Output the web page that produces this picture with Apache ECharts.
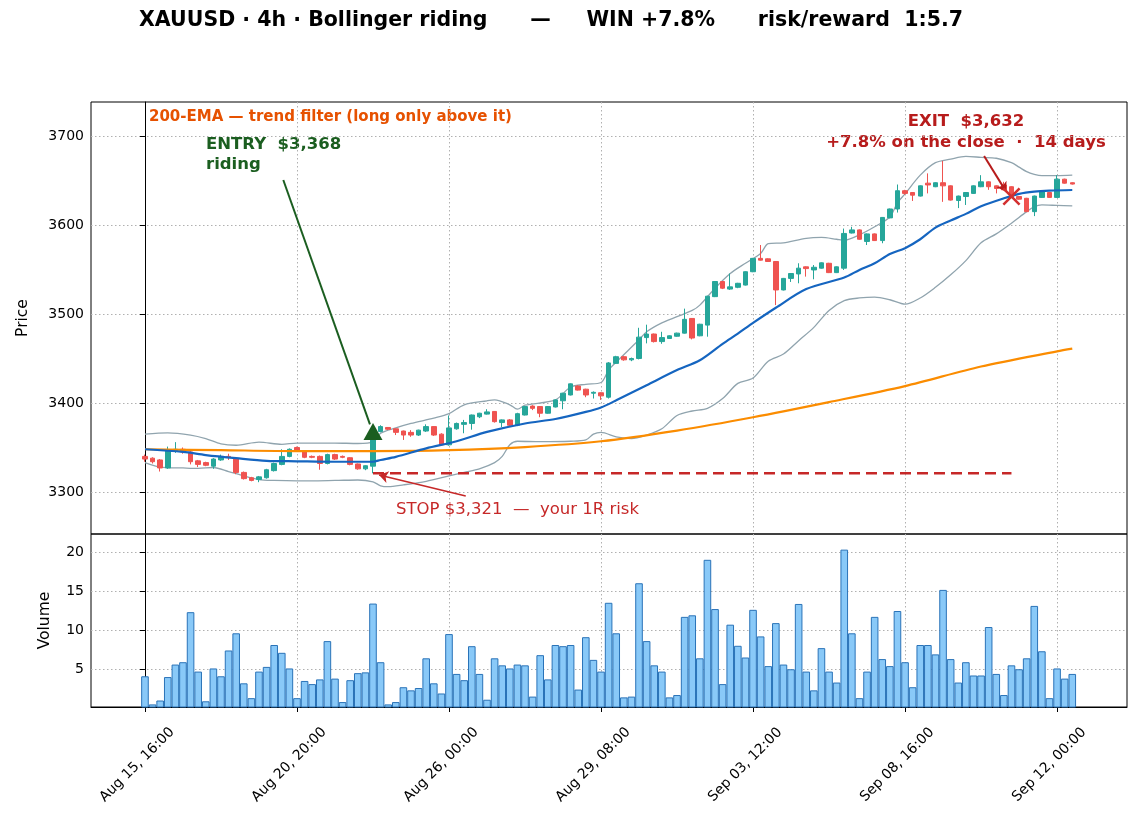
<!DOCTYPE html>
<html>
<head>
<meta charset="utf-8">
<title>XAUUSD 4h Bollinger riding</title>
<script src="https://cdn.jsdelivr.net/npm/echarts@6/dist/echarts.min.js"></script>
<style>
  html, body { margin: 0; padding: 0; background: #fff; }
  #chart { width: 1139px; height: 826px; }
</style>
</head>
<body>
<div id="chart"></div>
<script>
// x ticks (candle index) and their labels
const tickIdx = [0, 20, 40, 60, 80, 100, 120];
const tickLabels = ['Aug 15, 16:00', 'Aug 20, 20:00', 'Aug 26, 00:00', 'Aug 29, 08:00',
                    'Sep 03, 12:00', 'Sep 08, 16:00', 'Sep 12, 00:00'];
const priceTicks = [3300, 3400, 3500, 3600, 3700];
const volumeTicks = [5, 10, 15, 20];

// 4h candles
const opens = [3340,3338,3336,3327,3346,3348,3345,3335,3333,3329,3336,3340,3337,3322,3316,3314,3316,3324,3331,3340,
  3350,3345,3340,3340,3332,3342,3340,3338.5,3331.5,3326,3329,3368,3372.5,3371,3368.5,3367,3364,3368.5,3373.5,3365,
  3353,3371,3376,3377,3384.5,3387.5,3390.5,3378,3381,3375,3386.5,3396.5,3396,3388.5,3395.5,3402.5,3409,3419,3415.5,3411,
  3411.5,3406.5,3444.5,3452,3448.5,3450,3473.5,3477.5,3469,3472.5,3475,3478.5,3495,3475.5,3487.5,3519.5,3536.5,3528,3530,3532.5,
  3547.5,3562.5,3562,3559,3527,3540,3545,3553,3549.5,3551.5,3557,3546.5,3551.5,3591,3594.5,3581.5,3590,3582.5,3608,3618,
  3638.5,3636.5,3632.5,3647,3643,3647.5,3644,3627.5,3632,3635.5,3643,3648.5,3644,3645,3643,3632,3630,3615,3631,3636.5,
  3631,3651.5,3647.5];
const closes = [3337,3334,3327,3346,3348,3345,3334,3331,3330,3337,3340,3339,3322,3315,3313,3317,3325,3332,3340,3348,
  3347,3339,3339,3332,3342,3337,3339,3331,3326,3329.5,3368,3373.5,3370.5,3367,3364,3364,3369.5,3373.5,3364,3353,
  3372,3377,3378,3386.5,3388.5,3390,3379,3381,3375,3388,3396,3394,3388.5,3396,3403.5,3411,3421.5,3414.5,3409,3412,
  3408,3445,3452,3448.5,3450,3474,3477.5,3469,3473.5,3475.5,3478.5,3494,3473,3488.5,3520,3536.5,3529,3530.5,3534.5,3547.5,
  3562.5,3560.5,3559,3527,3540,3545.5,3551.5,3551,3552.5,3557.5,3546.5,3553,3590.5,3594.5,3584,3590,3582.5,3608.5,3618,3638.5,
  3635.5,3633.5,3644,3645,3647.5,3644,3628,3632.5,3636.5,3644,3648.5,3643,3641,3639.5,3632,3629,3615,3632.5,3637.5,3631,
  3651.5,3647,3646];
const lows = [3334,3332,3323,3326,3344,3343,3331,3328,3329,3326,3335,3336,3320,3314,3312,3311,3315,3323,3330,3339,
  3346,3338,3338,3325,3331,3336,3338,3330,3325,3324.5,3321,3367,3369.5,3364,3358.5,3362,3363,3367.5,3363,3352,
  3352,3370,3366,3370,3383,3387,3378,3373,3374,3374,3386,3392,3384,3388,3395,3393,3408.5,3414,3406.5,3405,
  3403.5,3405,3444,3447.5,3447,3449,3467,3468,3466.5,3472,3474.5,3478,3471.5,3475,3474.5,3519,3528,3527,3529,3532,
  3547,3560,3558.5,3510,3526.5,3536,3534.5,3542,3539,3551,3546,3546,3549.5,3590.5,3583.5,3577.5,3582,3579.5,3607.5,3614,
  3634,3627,3632,3635.5,3642.5,3626,3627.5,3619,3622.5,3635,3642.5,3639.5,3635.5,3639,3631.5,3628.5,3614.5,3610,3630.5,3630.5,
  3630.5,3646.5,3645.5];
const highs = [3342,3339,3337,3351,3356,3350,3346,3336,3334,3338,3342,3343,3338,3323,3317,3318,3326,3333,3348,3349,
  3351,3346,3341,3341,3343,3343,3341,3339,3332,3330,3370,3375,3373,3371.5,3369,3369.5,3370,3376,3374,3366,
  3386,3378,3381,3387,3389,3393,3391,3381.5,3382,3389,3396.5,3397.5,3396.5,3396.5,3404,3411.5,3422,3420,3416,3413,
  3412,3446,3453,3453,3451,3484.5,3488,3478,3480,3476,3479,3506,3495.5,3489,3520.5,3537,3537,3545.5,3535,3548,
  3563,3577.5,3562.5,3559.5,3540.5,3546,3557,3553.5,3555,3558,3557.5,3553.5,3596,3598,3595,3590.5,3590.5,3609,3618.5,3645.5,
  3639.5,3637,3644.5,3658,3648,3672,3644.5,3633,3637,3644.5,3656,3649,3644.5,3648.5,3643.5,3632.5,3630.5,3633,3638,3637,
  3656,3652,3648];
const volumes = [4.1,0.5,1.0,4.0,5.6,5.9,12.3,4.7,0.9,5.1,4.1,7.4,9.6,3.2,1.3,4.7,5.3,8.1,7.1,5.1,
  1.3,3.5,3.1,3.7,8.6,3.8,0.8,3.6,4.5,4.6,13.4,5.9,0.5,0.8,2.7,2.3,2.6,6.4,3.2,1.9,
  9.5,4.4,3.6,7.95,4.4,1.1,6.4,5.5,5.1,5.6,5.5,1.5,6.8,3.7,8.1,7.95,8.1,2.4,9.1,6.2,
  4.7,13.5,9.6,1.4,1.5,16.0,8.6,5.5,4.7,1.4,1.7,11.7,11.9,6.4,19.0,12.7,3.1,10.7,8.0,6.5,
  12.6,9.2,5.4,10.9,5.6,5.0,13.35,4.7,2.3,7.7,4.7,3.3,20.3,9.6,1.3,4.7,11.7,6.3,5.4,12.45,
  5.9,2.7,8.1,8.1,6.9,15.15,6.3,3.3,5.9,4.2,4.2,10.4,4.4,1.7,5.5,5.0,6.4,13.1,7.3,1.3,
  5.1,3.8,4.4];

// overlays at these candle indexes
const emaX = [0, 10, 20, 30, 40, 50, 60, 70, 80, 90, 100, 110, 120, 122];
const emaY = [3348, 3347, 3346, 3346, 3347, 3350.5, 3357, 3369, 3384, 3401, 3419, 3441, 3458, 3461];
const midX = [0, 5, 8, 12, 16, 20, 25, 30, 31, 33, 37, 41, 45, 50, 54, 58, 60, 62, 66, 70, 73, 76, 78, 80, 83,
  87, 92, 94, 96, 98, 100, 102, 104, 106, 108, 110, 113, 115, 117, 119, 122];
const midY = [3348, 3345, 3341.5, 3338, 3335, 3334.5, 3334, 3334, 3336, 3339.5, 3349, 3357, 3367.5, 3377, 3382, 3390,
  3395, 3403, 3420, 3437, 3448, 3466.5, 3478, 3490, 3507, 3528, 3541, 3549.5, 3557, 3567.5, 3574, 3584, 3597,
  3605, 3612.5, 3621, 3630, 3635, 3637.5, 3638.6, 3639.3];
const upperX = [0, 3, 6, 8, 10, 12, 15, 18, 20, 25, 28, 30, 31, 33, 35, 38, 40, 42, 45, 46, 48, 49, 50, 54, 56,
  58, 60, 61, 62, 65, 66, 68, 70, 72, 73, 75, 77, 79, 81, 82, 84, 87, 89, 91, 92, 94, 96, 98, 99, 100, 102, 104,
  106, 108, 110, 112, 114, 115, 116, 117, 118, 120, 122];
const upperY = [3365, 3366.5, 3364, 3360, 3354, 3352.5, 3356, 3353.5, 3355, 3355, 3354.5, 3356, 3366, 3372, 3377,
  3383, 3388, 3398, 3402.5, 3403.5, 3398, 3393, 3397.5, 3403.5, 3418, 3421, 3423, 3437, 3446, 3471, 3480, 3490,
  3497, 3504, 3510, 3529, 3545.5, 3557, 3568, 3579, 3580, 3585, 3586, 3584, 3583, 3589, 3598, 3609, 3625, 3635,
  3656, 3670, 3674, 3677, 3676, 3675, 3670, 3665, 3660, 3657, 3655.5, 3655.5, 3656];
const lowerX = [0, 2, 5, 7, 9, 11, 13, 15, 17, 20, 25, 28, 30, 31, 32, 34, 37, 40, 42, 44, 46, 47, 48, 49, 52,
  56, 58, 59, 60, 62, 64, 66, 68, 70, 72, 74, 76, 78, 80, 82, 84, 86, 88, 90, 92, 94, 96, 98, 100, 102, 104,
  106, 108, 110, 112, 114, 116, 117, 118, 120, 122];
const lowerY = [3333, 3328, 3327, 3326.5, 3327.5, 3323, 3318, 3314, 3313, 3312.5, 3313, 3313.5, 3311.5, 3307, 3306,
  3308, 3312, 3318, 3322, 3326, 3333, 3340, 3353, 3357, 3356.5, 3357, 3358.5, 3365, 3367, 3362, 3360, 3364, 3371,
  3386, 3391, 3394, 3405, 3422, 3428, 3447, 3455, 3470, 3485, 3504, 3515, 3518, 3519, 3516, 3511, 3518, 3530,
  3544, 3560, 3580, 3590, 3602, 3615, 3620.5, 3622.5, 3622, 3621.5];

// trade
const entryIdx = 30, entryPrice = 3368;
const exitIdx = 114, exitPrice = 3632;
const stopPrice = 3321;

const FONT = 'DejaVu Sans';
const X_MIN = -7.1, X_MAX = 129.2;
const dotted = { type: [1.5, 2.5], color: '#b0b0b0', width: 1 };

function pairs(xs, ys) {
    return xs.map((x, i) => [x, ys[i]]);
}

const candleData = opens.map((o, i) => [i, o, closes[i], lows[i], highs[i]]);
const volumeData = volumes.map((v, i) => [i, v]);

const chart = echarts.init(document.getElementById('chart'));

const option = {
    animation: false,
    backgroundColor: '#fff',
    textStyle: { fontFamily: FONT },
    grid: [
        { left: 91, right: 12, top: 102, height: 432, show: true, borderColor: '#000', borderWidth: 1 },
        { left: 91, right: 12, top: 534, height: 173, show: true, borderColor: '#000', borderWidth: 1 }
    ],
    xAxis: [
        {
            gridIndex: 0, type: 'value', min: X_MIN, max: X_MAX,
            axisLine: { show: false }, axisTick: { show: false, customValues: tickIdx },
            axisLabel: { show: false, customValues: tickIdx },
            splitLine: { show: true, lineStyle: dotted }
        },
        {
            gridIndex: 1, type: 'value', min: X_MIN, max: X_MAX,
            axisLine: { show: true, onZero: false, lineStyle: { color: '#000' } },
            axisTick: { show: true, length: 5, customValues: tickIdx, lineStyle: { color: '#000' } },
            axisLabel: {
                customValues: tickIdx, rotate: 45, fontSize: 14, color: '#000', margin: 50,
                align: 'center', verticalAlign: 'middle', padding: [0, 22, 0, 0],
                formatter: v => tickLabels[tickIdx.indexOf(Math.round(v))] || ''
            },
            splitLine: { show: true, lineStyle: dotted }
        }
    ],
    yAxis: [
        {
            gridIndex: 0, type: 'value', min: 3252.8, max: 3738.2,
            axisLine: { show: true, lineStyle: { color: '#000' } },
            axisTick: { show: true, length: 5, customValues: priceTicks, lineStyle: { color: '#000' } },
            axisLabel: { customValues: priceTicks, fontSize: 14, color: '#000', margin: 7, formatter: v => String(v) },
            splitLine: { show: true, lineStyle: dotted },
            name: 'Price', nameLocation: 'middle', nameGap: 60,
            nameTextStyle: { fontSize: 15.5, color: '#000' }
        },
        {
            gridIndex: 1, type: 'value', min: 0.17, max: 22.3,
            axisLine: { show: true, lineStyle: { color: '#000' } },
            axisTick: { show: true, length: 5, customValues: volumeTicks, lineStyle: { color: '#000' } },
            axisLabel: { customValues: volumeTicks, fontSize: 14, color: '#000', margin: 7, formatter: v => String(v) },
            splitLine: { show: true, lineStyle: dotted },
            name: 'Volume', nameLocation: 'middle', nameGap: 38,
            nameTextStyle: { fontSize: 15.5, color: '#000' }
        }
    ],
    series: [
        {
            name: 'upper', type: 'line', xAxisIndex: 0, yAxisIndex: 0, data: pairs(upperX, upperY),
            showSymbol: false, smooth: 0.3, lineStyle: { color: '#90a4ae', width: 1.3 }, z: 2
        },
        {
            name: 'lower', type: 'line', xAxisIndex: 0, yAxisIndex: 0, data: pairs(lowerX, lowerY),
            showSymbol: false, smooth: 0.3, lineStyle: { color: '#90a4ae', width: 1.3 }, z: 2
        },
        {
            name: 'XAUUSD', type: 'candlestick', xAxisIndex: 0, yAxisIndex: 0, data: candleData,
            barWidth: 5,
            itemStyle: {
                color: '#26a69a', color0: '#ef5350',
                borderColor: '#26a69a', borderColor0: '#ef5350', borderWidth: 1
            },
            z: 3
        },
        {
            name: 'EMA200', type: 'line', xAxisIndex: 0, yAxisIndex: 0, data: pairs(emaX, emaY),
            showSymbol: false, smooth: 0.3, lineStyle: { color: '#fb8c00', width: 2.2 }, z: 4
        },
        {
            name: 'SMA20', type: 'line', xAxisIndex: 0, yAxisIndex: 0, data: pairs(midX, midY),
            showSymbol: false, smooth: 0.3, lineStyle: { color: '#1565c0', width: 2.2 }, z: 4
        },
        {
            name: 'stop', type: 'line', xAxisIndex: 0, yAxisIndex: 0,
            data: [[entryIdx, stopPrice], [exitIdx, stopPrice]],
            showSymbol: false, lineStyle: { color: '#c62828', width: 2.6, type: [11, 6] }, z: 4,
            markLine: {
                silent: true, animation: false, label: { show: false }, symbolSize: 9,
                data: [
                    [
                        { coord: [18.2, 3650.6], symbol: 'none', lineStyle: { color: '#1b5e20', width: 2, type: 'solid' } },
                        { coord: [29.6, 3376], symbol: 'none' }
                    ],
                    [
                        { coord: [110.4, 3677.5], symbol: 'none', lineStyle: { color: '#b71c1c', width: 2, type: 'solid' } },
                        { coord: [113.3, 3637.5], symbol: 'arrow' }
                    ],
                    [
                        { coord: [42.2, 3295.5], symbol: 'none', lineStyle: { color: '#c62828', width: 1.6, type: 'solid' } },
                        { coord: [30.8, 3319], symbol: 'arrow' }
                    ]
                ]
            }
        },
        {
            name: 'entry', type: 'scatter', xAxisIndex: 0, yAxisIndex: 0,
            data: [[entryIdx, entryPrice]], symbol: 'triangle', symbolSize: [19, 17],
            itemStyle: { color: '#1b5e20', opacity: 1 }, z: 6
        },
        {
            name: 'exit', type: 'scatter', xAxisIndex: 0, yAxisIndex: 0,
            data: [[exitIdx, exitPrice]],
            symbol: 'path://M2,0L10,8L18,0L20,2L12,10L20,18L18,20L10,12L2,20L0,18L8,10L0,2Z',
            symbolSize: 18, itemStyle: { color: '#d32f2f', opacity: 1 }, z: 6
        },
        {
            name: 'volume', type: 'bar', xAxisIndex: 1, yAxisIndex: 1, data: volumeData,
            barWidth: 7.6,
            itemStyle: { color: '#89c9f8', borderColor: '#2a73b8', borderWidth: 1 }
        }
    ],
    graphic: [
        {
            type: 'text', x: 551, y: 21,
            style: {
                text: 'XAUUSD · 4h · Bollinger riding      —     WIN +7.8%      risk/reward  1:5.7',
                font: 'bold 20.5px "DejaVu Sans"', fill: '#000', align: 'center', verticalAlign: 'middle'
            }
        },
        {
            type: 'text', x: 149, y: 117,
            style: {
                text: '200-EMA — trend filter (long only above it)',
                font: 'bold 15px "DejaVu Sans"', fill: '#e65100', align: 'left', verticalAlign: 'middle'
            }
        },
        {
            type: 'text', x: 206, y: 135,
            style: {
                text: 'ENTRY  $3,368\nriding', lineHeight: 20,
                font: 'bold 16.5px "DejaVu Sans"', fill: '#1b5e20', align: 'left', verticalAlign: 'top'
            }
        },
        {
            type: 'text', x: 966, y: 111,
            style: {
                text: 'EXIT  $3,632\n+7.8% on the close  ·  14 days', lineHeight: 21,
                font: 'bold 16.5px "DejaVu Sans"', fill: '#b71c1c', align: 'center', verticalAlign: 'top'
            }
        },
        {
            type: 'text', x: 396, y: 510,
            style: {
                text: 'STOP $3,321  —  your 1R risk',
                font: '16.5px "DejaVu Sans"', fill: '#c62828', align: 'left', verticalAlign: 'middle'
            }
        }
    ]
};

chart.setOption(option);

window.addEventListener('resize', () => {
    chart.resize();
});
</script>
</body>
</html>
